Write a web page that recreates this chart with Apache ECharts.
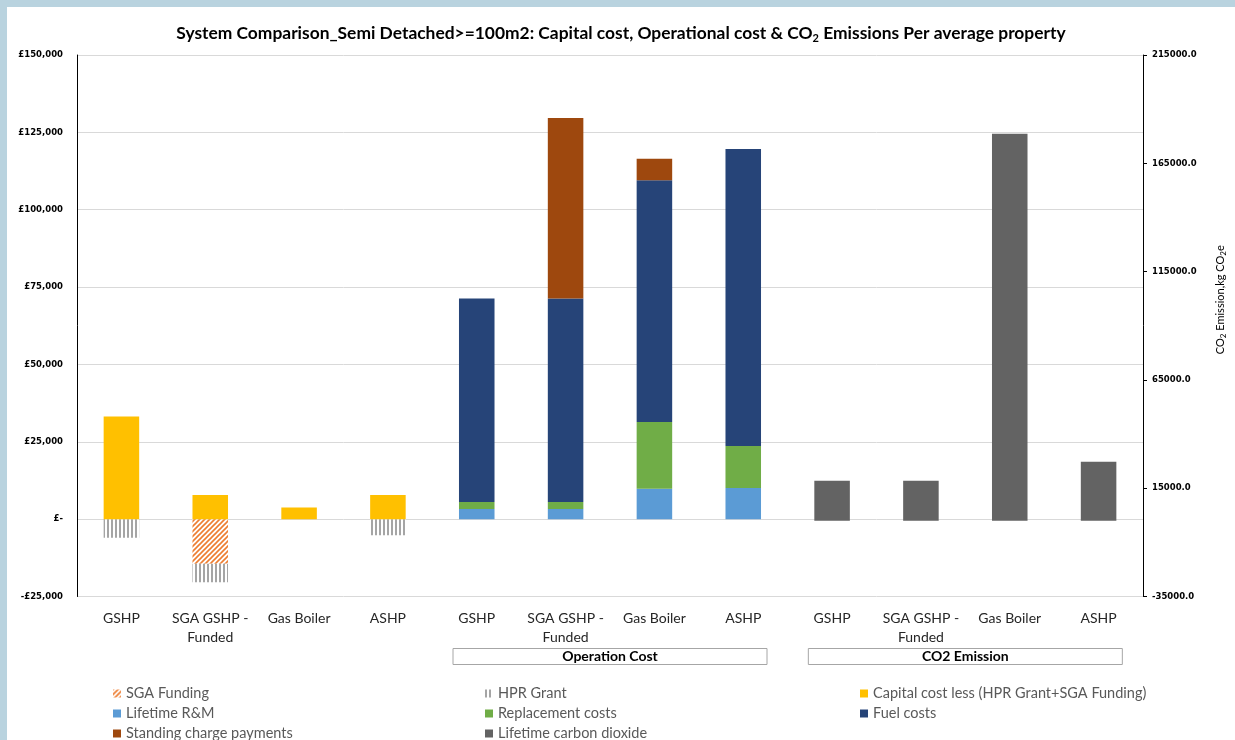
<!DOCTYPE html>
<html>
<head>
<meta charset="utf-8">
<script src="https://cdn.jsdelivr.net/npm/echarts@6/dist/echarts.min.js"></script>
<style>
  html, body { margin: 0; padding: 0; background: #b9d3df; }
  #chart { position: absolute; left: 7px; top: 7px; width: 1228px; height: 733px; background: #ffffff; }
</style>
</head>
<body>
<div id="chart"></div>
<script>
// Categories: three blocks of four systems (capital cost, operation cost, CO2)
const systems = ['GSHP', 'SGA GSHP -\nFunded', 'Gas Boiler', 'ASHP'];
const categories = systems.concat(systems, systems);
const groupLabels = ['', 'Operation Cost', 'CO2 Emission'];

// Capital cost block (£)
const capitalCost = [33200, 7800, 3800, 7800, '-', '-', '-', '-', '-', '-', '-', '-'];
const sgaFunding  = ['-', -14400, '-', '-', '-', '-', '-', '-', '-', '-', '-', '-'];
const hprGrant    = [-6000, -6000, '-', -5200, '-', '-', '-', '-', '-', '-', '-', '-'];

// Operation cost block (£)
const lifetimeRM   = ['-', '-', '-', '-', 3300, 3300, 9800, 10100, '-', '-', '-', '-'];
const replacement  = ['-', '-', '-', '-', 2200, 2200, 21600, 13500, '-', '-', '-', '-'];
const fuelCosts    = ['-', '-', '-', '-', 65800, 65800, 78100, 96000, '-', '-', '-', '-'];
const standing     = ['-', '-', '-', '-', '-', 58300, 7000, '-', '-', '-', '-', '-'];

// CO2 block (kg CO2e, right axis)
const co2 = ['-', '-', '-', '-', '-', '-', '-', '-', 18400, 18400, 178600, 27200];

// Right axis tick values
const co2Ticks = [-35000, 15000, 65000, 115000, 165000, 215000];

// Hatch fills
function stripePattern(kind) {
  const c = document.createElement('canvas');
  if (kind === 'diag') {
    const s = 5;
    c.width = s; c.height = s;
    const g = c.getContext('2d');
    g.fillStyle = '#ffffff'; g.fillRect(0, 0, s, s);
    g.strokeStyle = '#ED7D31'; g.lineWidth = 1.6;
    g.beginPath();
    g.moveTo(-1, s + 1); g.lineTo(s + 1, -1);
    g.moveTo(-1, 1); g.lineTo(1, -1);
    g.moveTo(s - 1, s + 1); g.lineTo(s + 1, s - 1);
    g.stroke();
  } else {
    c.width = 4; c.height = 4;
    const g = c.getContext('2d');
    g.fillStyle = '#ffffff'; g.fillRect(0, 0, 4, 4);
    g.fillStyle = '#A5A5A5'; g.fillRect(0, 0, 2, 4);
  }
  return { image: c, repeat: 'repeat' };
}

const fontMain = 'Lato, "Noto Sans", sans-serif';
const fontTick = '"DejaVu Sans", Verdana, sans-serif';

function gbp(v) {
  if (v === 0) return '£-';
  const s = Math.abs(v).toLocaleString('en-GB');
  return (v < 0 ? '-£' : '£') + s;
}

function bar(name, data, color, extra) {
  return Object.assign({
    name: name,
    type: 'bar',
    stack: 'total',
    data: data,
    barWidth: '40%',
    itemStyle: { color: color },
    emphasis: { disabled: true }
  }, extra || {});
}

const chart = echarts.init(document.getElementById('chart'), null, { renderer: 'canvas' });

const legendBase = {
  orient: 'vertical',
  top: 679,
  height: 70,
  padding: 0,
  itemWidth: 8,
  itemHeight: 8,
  itemGap: 5,
  icon: 'rect',
  textStyle: { fontFamily: fontMain, fontSize: 14.5, color: '#595959', lineHeight: 14 },
  selectedMode: false
};

chart.setOption({
  animation: false,
  textStyle: { fontFamily: fontMain },
  title: {
    text: '{t|System Comparison_Semi Detached>=100m2: Capital cost, Operational cost & CO}{s|2}{t| Emissions Per average property}',
    left: 'center',
    top: 11,
    textStyle: {
      rich: {
        t: { fontFamily: fontMain, fontSize: 17.4, fontWeight: 'bold', color: '#000000', lineHeight: 21 },
        s: { fontFamily: fontMain, fontSize: 11, fontWeight: 'bold', color: '#000000', lineHeight: 21, verticalAlign: 'bottom', padding: [6, 0, 0, 0] }
      }
    }
  },
  grid: { left: 70, right: 87, top: 48, bottom: 143.5, containLabel: false },
  legend: [
    Object.assign({}, legendBase, { left: 106, data: ['SGA Funding', 'Lifetime R&M', 'Standing charge payments'] }),
    Object.assign({}, legendBase, { left: 478, data: ['HPR Grant', 'Replacement costs', 'Lifetime carbon dioxide'] }),
    Object.assign({}, legendBase, { left: 853, data: ['Capital cost less (HPR Grant+SGA Funding)', 'Fuel costs'] })
  ],
  xAxis: [
    {
      type: 'category',
      data: categories,
      position: 'bottom',
      axisLine: { show: false },
      axisTick: { show: false },
      axisLabel: {
        interval: 0,
        margin: 12,
        fontFamily: fontMain,
        fontSize: 14,
        lineHeight: 19,
        color: '#262626'
      }
    },
    {
      type: 'category',
      data: groupLabels,
      position: 'bottom',
      offset: 44,
      axisLine: { show: false },
      axisTick: { show: false },
      splitLine: { show: false },
      axisLabel: {
        interval: 0,
        margin: 8,
        formatter: function (v) { return v ? '{b|' + v + '}' : ''; },
        rich: {
          b: {
            fontFamily: fontMain,
            fontSize: 14,
            fontWeight: 'bold',
            color: '#000000',
            width: 314,
            height: 16,
            align: 'center',
            borderColor: '#a6a6a6',
            borderWidth: 1
          }
        }
      }
    }
  ],
  yAxis: [
    {
      type: 'value',
      min: -25000,
      max: 150000,
      interval: 25000,
      axisLine: { show: true, lineStyle: { color: '#000000', width: 1 } },
      axisTick: { show: false },
      splitLine: { show: true, lineStyle: { color: '#d9d9d9', width: 1 } },
      axisLabel: {
        margin: 14,
        formatter: gbp,
        fontFamily: fontTick,
        fontSize: 8.5,
        fontWeight: 'bold',
        color: '#000000'
      }
    },
    {
      type: 'value',
      min: -35000,
      max: 215000,
      position: 'right',
      axisLine: { show: true, lineStyle: { color: '#000000', width: 1 } },
      axisTick: { show: true, length: 4, inside: false, customValues: co2Ticks, lineStyle: { color: '#000000' } },
      splitLine: { show: false },
      axisLabel: {
        margin: 9,
        customValues: co2Ticks,
        formatter: function (v) { return v.toFixed(1); },
        fontFamily: fontTick,
        fontSize: 8.5,
        fontWeight: 'bold',
        color: '#000000'
      },
      name: '{a|CO}{s|2}{a| Emission,kg CO}{s|2}{a|e}',
      nameLocation: 'middle',
      nameRotate: 90,
      nameGap: 70,
      nameTextStyle: {
        padding: [0, 0, 0, 52],
        rich: {
          a: { fontFamily: fontMain, fontSize: 11, color: '#000000', lineHeight: 14 },
          s: { fontFamily: fontMain, fontSize: 8, color: '#000000', lineHeight: 14, verticalAlign: 'bottom', padding: [4, 0, 0, 0] }
        }
      }
    }
  ],
  series: [
    bar('SGA Funding', sgaFunding, stripePattern('diag')),
    bar('HPR Grant', hprGrant, stripePattern('vert')),
    bar('Capital cost less (HPR Grant+SGA Funding)', capitalCost, '#FFC000'),
    bar('Lifetime R&M', lifetimeRM, '#5B9BD5'),
    bar('Replacement costs', replacement, '#70AD47'),
    bar('Fuel costs', fuelCosts, '#264478'),
    bar('Standing charge payments', standing, '#9E480E'),
    bar('Lifetime carbon dioxide', co2, '#636363', { yAxisIndex: 1 })
  ]
});
</script>
</body>
</html>
